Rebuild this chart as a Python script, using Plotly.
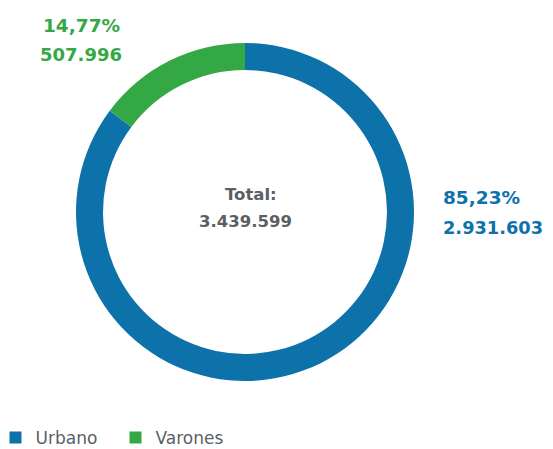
import plotly.graph_objects as go

labels = ['Urbano', 'Varones']
values = [2931603, 507996]
colors = ['#0E72AA', '#35A846']

W, H = 545, 441  # page body has an 8px margin


def fmt_int(n):
    return f"{n:,}".replace(',', '.')


def fmt_pct(p):
    return f"{p:.2f}%".replace('.', ',')


def px(x):
    return (x - 8) / W


def py(y):
    return 1 - (y - 8) / H


total = sum(values)
pcts = [v / total * 100 for v in values]

fig = go.Figure(go.Pie(
    labels=labels,
    values=values,
    marker=dict(colors=colors, line=dict(color='white', width=0)),
    hole=0.84,
    sort=False,
    direction='clockwise',
    rotation=0,
    textinfo='none',
    hoverinfo='label+value+percent',
    domain=dict(x=[px(76), px(414)], y=[py(381), py(43)]),
))

font_main = 'DejaVu Sans'
grey = '#5B5F63'


def label(text, x, y, size, color, xanchor='center'):
    fig.add_annotation(
        x=px(x), y=py(y), xref='paper', yref='paper',
        xanchor=xanchor, yanchor='middle',
        text=f"<b>{text}</b>", showarrow=False,
        font=dict(family=font_main, size=size, color=color),
    )


label("Total:", 251, 194, 16.5, grey)
label(fmt_int(total), 245, 221, 16.5, grey)
label(fmt_pct(pcts[0]), 441, 197, 18.5, colors[0], 'left')
label(fmt_int(values[0]), 441, 227, 17.8, colors[0], 'left')
label(fmt_pct(pcts[1]), 81, 25, 18.5, colors[1])
label(fmt_int(values[1]), 81, 54, 18, colors[1])

fig.update_layout(
    width=W, height=H,
    margin=dict(l=0, r=0, t=0, b=0, autoexpand=False),
    paper_bgcolor='white',
    plot_bgcolor='white',
    legend=dict(
        orientation='h',
        x=px(-4.5), y=py(456),
        xanchor='left', yanchor='bottom',
        font=dict(family=font_main, size=17, color=grey),
        itemwidth=30,
        entrywidth=75,
    ),
)

fig.write_html("out.html")
